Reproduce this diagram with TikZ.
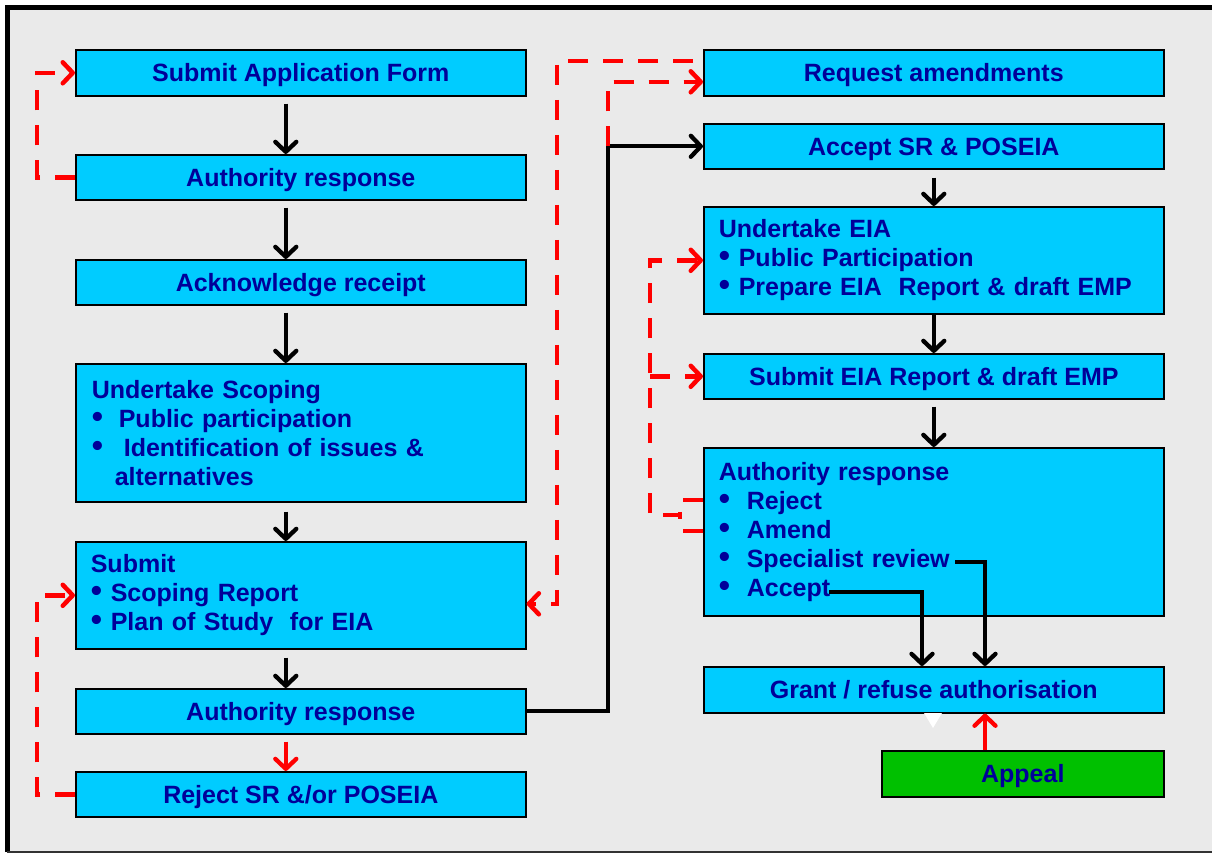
\documentclass[tikz,border=0pt]{standalone}
\usepackage{fontspec}
\setmainfont{Liberation Sans}
\usetikzlibrary{arrows.meta}
\definecolor{panel}{HTML}{EAEAEA}
\definecolor{boxblue}{HTML}{00CCFF}
\definecolor{ink}{HTML}{000099}
\definecolor{appealgreen}{HTML}{00C000}
\definecolor{flowred}{HTML}{FF0000}
\newcommand\bul{{\fontsize{32pt}{29pt}\selectfont\textbullet}}

\begin{document}
\begin{tikzpicture}[x=1pt,y=-1pt,
  box/.style={draw=black, line width=1.6pt, fill=boxblue, text=ink,
    font=\fontsize{25pt}{29pt}\selectfont\bfseries, anchor=north west, inner sep=0pt},
  oneline/.style={text height=19pt, text depth=1pt},
  listbox/.style={align=left, inner xsep=15pt, text width=#1},
  flow/.style={line width=4.3pt, draw=black, -{Straight Barb[length=10pt,width=21pt,round]}},
  back/.style={line width=4.5pt, draw=flowred, dash pattern=on 20pt off 15pt,
    -{Straight Barb[length=10pt,width=21pt,round]}},
  backline/.style={line width=4.5pt, draw=flowred, dash pattern=on 20pt off 15pt},
]
\useasboundingbox (0,0) rectangle (1212,854);
% panel and frame
\fill[white] (0,0) rectangle (1212,854);
\fill[panel] (7,7) rectangle (1212,852);
\draw[line width=5pt] (7,852) -- (7,7) -- (1212,7);
\draw[line width=2.5pt, black!80] (7,852) -- (1212,852);

% left column
\node[box, oneline, minimum width=450pt, minimum height=46pt] (app) at (75,49) {Submit Application Form};
\node[box, oneline, minimum width=450pt, minimum height=45pt] (auth1) at (75,154) {Authority response};
\node[box, oneline, minimum width=450pt, minimum height=45pt] (ack) at (75,259) {Acknowledge receipt};
\node[box, minimum width=450pt, minimum height=138pt, listbox=418pt, inner xsep=16pt] (scope) at (75,363)
  {Undertake Scoping\\
   \makebox[27pt][l]{\bul}Public participation\\
   \makebox[32pt][l]{\bul}Identification of issues \&\\
   \hspace*{23pt}alternatives};
\node[box, minimum width=450pt, minimum height=107pt, listbox=420pt] (submit) at (75,541)
  {Submit\\
   \makebox[20pt][l]{\bul}Scoping Report\\
   \makebox[20pt][l]{\bul}Plan of Study\ \ for EIA};
\node[box, oneline, minimum width=450pt, minimum height=45pt] (auth2) at (75,688) {Authority response};
\node[box, oneline, minimum width=450pt, minimum height=45pt] (reject) at (75,771) {Reject SR \&/or POSEIA};

% right column
\node[box, oneline, minimum width=460pt, minimum height=46pt] (req) at (703,49) {Request amendments};
\node[box, oneline, minimum width=460pt, minimum height=45pt] (accept) at (703,123) {Accept SR \& POSEIA};
\node[box, minimum width=460pt, minimum height=107pt, listbox=430pt] (eia) at (703,206)
  {Undertake EIA\\
   \makebox[20pt][l]{\bul}Public Participation\\
   \makebox[20pt][l]{\bul}Prepare EIA\ \ Report \& draft EMP};
\node[box, oneline, minimum width=460pt, minimum height=45pt] (subeia) at (703,353) {Submit EIA Report \& draft EMP};
\node[box, minimum width=460pt, minimum height=168pt, listbox=430pt] (authR) at (703,447)
  {Authority response\\
   \makebox[28pt][l]{\bul}Reject\\
   \makebox[28pt][l]{\bul}Amend\\
   \makebox[28pt][l]{\bul}Specialist review\\
   \makebox[28pt][l]{\bul}Accept};
\node[box, oneline, minimum width=460pt, minimum height=46pt] (grant) at (703,666) {Grant / refuse authorisation};
\node[box, oneline, fill=appealgreen, minimum width=282pt, minimum height=46pt] (appeal) at (881,750) {Appeal};

% small white marker under the decision box
\fill[white] (924,713) -- (942,713) -- (933,728) -- cycle;

% main flow, left column
\draw[flow, shorten <=7pt] ([xshift=-15pt]app.south) -- ([xshift=-15pt]auth1.north);
\draw[flow, shorten <=7pt] ([xshift=-15pt]auth1.south) -- ([xshift=-15pt]ack.north);
\draw[flow, shorten <=7pt] ([xshift=-15pt]ack.south) -- ([xshift=-15pt]scope.north);
\draw[flow, shorten <=9pt] ([xshift=-15pt]scope.south) -- ([xshift=-15pt]submit.north);
\draw[flow, shorten <=8pt] ([xshift=-15pt]submit.south) -- ([xshift=-15pt]auth2.north);
\draw[flow, draw=flowred, shorten <=7pt] ([xshift=-15pt]auth2.south) -- ([xshift=-15pt]reject.north);

% main flow, right column
\coordinate (jx) at (608,0);
\draw[flow] (auth2.east) -- (auth2.east -| jx) -- (jx |- accept.west) -- (accept.west);
\draw[flow, shorten <=8pt] (accept.south) -- (eia.north);
\draw[flow] (eia.south) -- (subeia.north);
\draw[flow, shorten <=7pt] (subeia.south) -- (authR.north);

\coordinate (specend) at (955,562);
\coordinate (accend) at (829,592);
\coordinate (sx) at (985,0);
\coordinate (ax) at (922,0);
\draw[flow] (specend) -- (sx |- specend) -- (sx |- grant.north);
\draw[flow] (accend) -- (ax |- accend) -- (ax |- grant.north);
\draw[flow, draw=flowred] (sx |- appeal.north) -- (sx |- grant.south);

% feedback loops
\coordinate (lx) at (37,0);
\draw[back] (auth1.west) -- (lx |- auth1.west) -- (lx |- app.west) -- (app.west);
\draw[back] (reject.west) -- (lx |- reject.west) -- (lx |- submit.west) -- (submit.west);

\coordinate (reqlow) at ([yshift=-9pt]req.west);
\coordinate (reqhigh) at ([yshift=12pt]req.west);
\coordinate (ox) at (557,0);
\coordinate (subin) at ([yshift=-8.5pt]submit.east);
\draw[back] (jx |- accept.west) -- (jx |- reqlow) -- (reqlow);
\draw[back, shorten <=10pt] (reqhigh) -- (ox |- reqhigh) -- (ox |- subin) -- (subin);

\coordinate (rx) at (650,0);
\coordinate (kx) at (680,0);
\coordinate (rej) at ([yshift=32pt]authR.west);
\coordinate (amd) at ([yshift=1pt]authR.west);
\coordinate (merge) at (680,515);
\draw[back] (rej) -- (kx |- rej) -- (merge) -- (rx |- merge) -- (rx |- eia.west) -- (eia.west);
\draw[backline] (amd) -- (kx |- amd) -- (merge);
\draw[back] (rx |- subeia.west) -- (subeia.west);
\end{tikzpicture}
\end{document}
